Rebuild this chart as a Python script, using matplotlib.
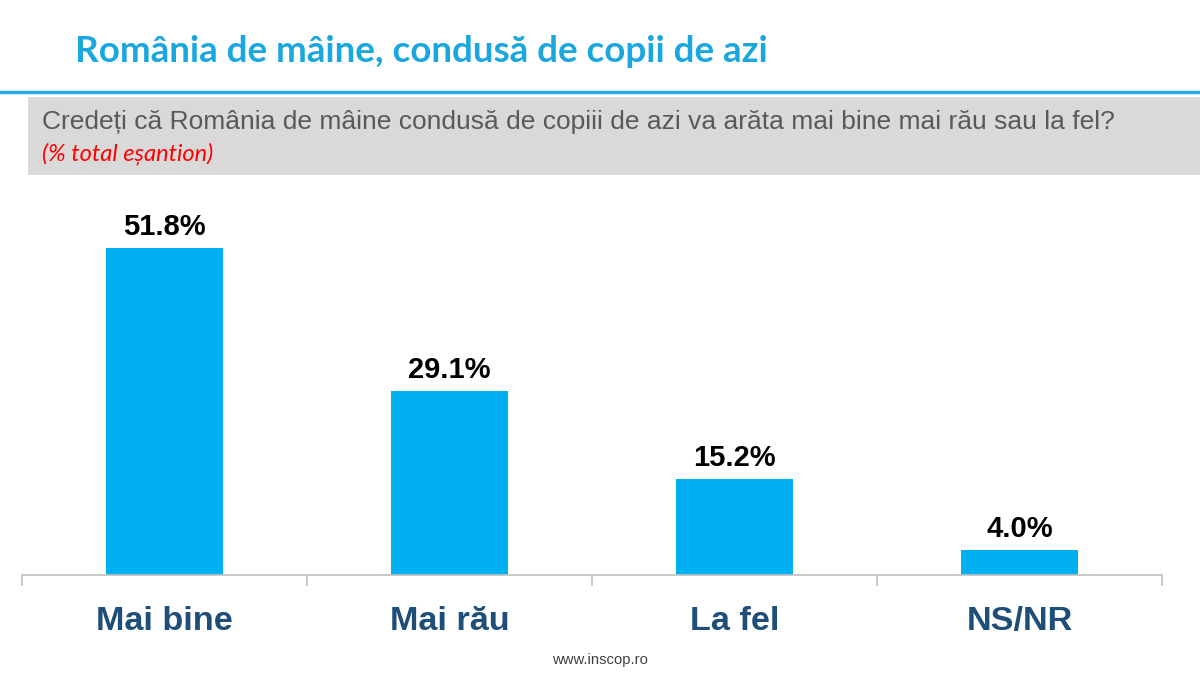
import matplotlib.pyplot as plt
import numpy as np
from matplotlib.patches import Rectangle
from matplotlib.lines import Line2D

categories = ['Mai bine', 'Mai rău', 'La fel', 'NS/NR']
values = [51.8, 29.1, 15.2, 4.0]
labels = ['51.8%', '29.1%', '15.2%', '4.0%']

title = 'România de mâine, condusă de copii de azi'
question = 'Credeți că România de mâine condusă de copiii de azi va arăta mai bine mai rău sau la fel?'
note = '(% total eșantion)'
footer = 'www.inscop.ro'

fig = plt.figure(figsize=(12, 6.75), dpi=100)

# header: title, blue rule, grey question box
fig.text(75 / 1200, 1 - 52 / 675, title, color='#1AA7E0', fontsize=26.5,
         fontweight='bold', family=['Lato', 'DejaVu Sans'], va='center', ha='left')
fig.add_artist(Line2D([0, 1], [1 - 92 / 675] * 2, color='#29A8E0', lw=2.5,
                      transform=fig.transFigure))
fig.add_artist(Rectangle((28 / 1200, 1 - 175 / 675), 1 - 28 / 1200, 78 / 675,
                         facecolor='#D9D9D9', edgecolor='none', transform=fig.transFigure))
fig.text(42 / 1200, 1 - 122 / 675, question, color='#595959', fontsize=19,
         family=['Liberation Sans', 'DejaVu Sans'], va='center', ha='left')
fig.text(42 / 1200, 1 - 154 / 675, note, color='#FF0000', fontsize=17, style='italic',
         family=['Lato', 'DejaVu Sans'], va='center', ha='left')

# bars
ax = fig.add_axes([22 / 1200, 1 - 575 / 675, 1140 / 1200, 375 / 675])
x = np.arange(len(categories))
bars = ax.bar(x, values, width=0.41, color='#00B0F0')
for b, lab in zip(bars, labels):
    ax.annotate(lab, (b.get_x() + b.get_width() / 2, b.get_height()),
                xytext=(0, 5), textcoords='offset points', ha='center', va='bottom',
                fontsize=21, fontweight='bold', color='black',
                family=['Liberation Sans', 'DejaVu Sans'])

ax.set_xlim(-0.5, len(categories) - 0.5)
ax.set_ylim(0, 59.4)
ax.set_yticks([])
for s in ['top', 'right', 'left']:
    ax.spines[s].set_visible(False)
ax.spines['bottom'].set_color('#BFBFBF')
ax.spines['bottom'].set_linewidth(1.2)

ax.set_xticks(x)
ax.set_xticklabels(categories, fontsize=24.7, fontweight='bold', color='#1F4E79',
                   family=['Liberation Sans', 'DejaVu Sans'])
ax.tick_params(axis='x', which='major', length=0, pad=22)
ax.set_xticks(np.arange(len(categories) + 1) - 0.5, minor=True)
ax.tick_params(axis='x', which='minor', length=8, color='#BFBFBF', width=1.2)

fig.text(0.5, 1 - 660 / 675, footer, color='#404040', fontsize=10.7,
         family=['Liberation Sans Narrow', 'Liberation Sans', 'DejaVu Sans'],
         ha='center', va='center')

fig.savefig('out.png', dpi=100)
